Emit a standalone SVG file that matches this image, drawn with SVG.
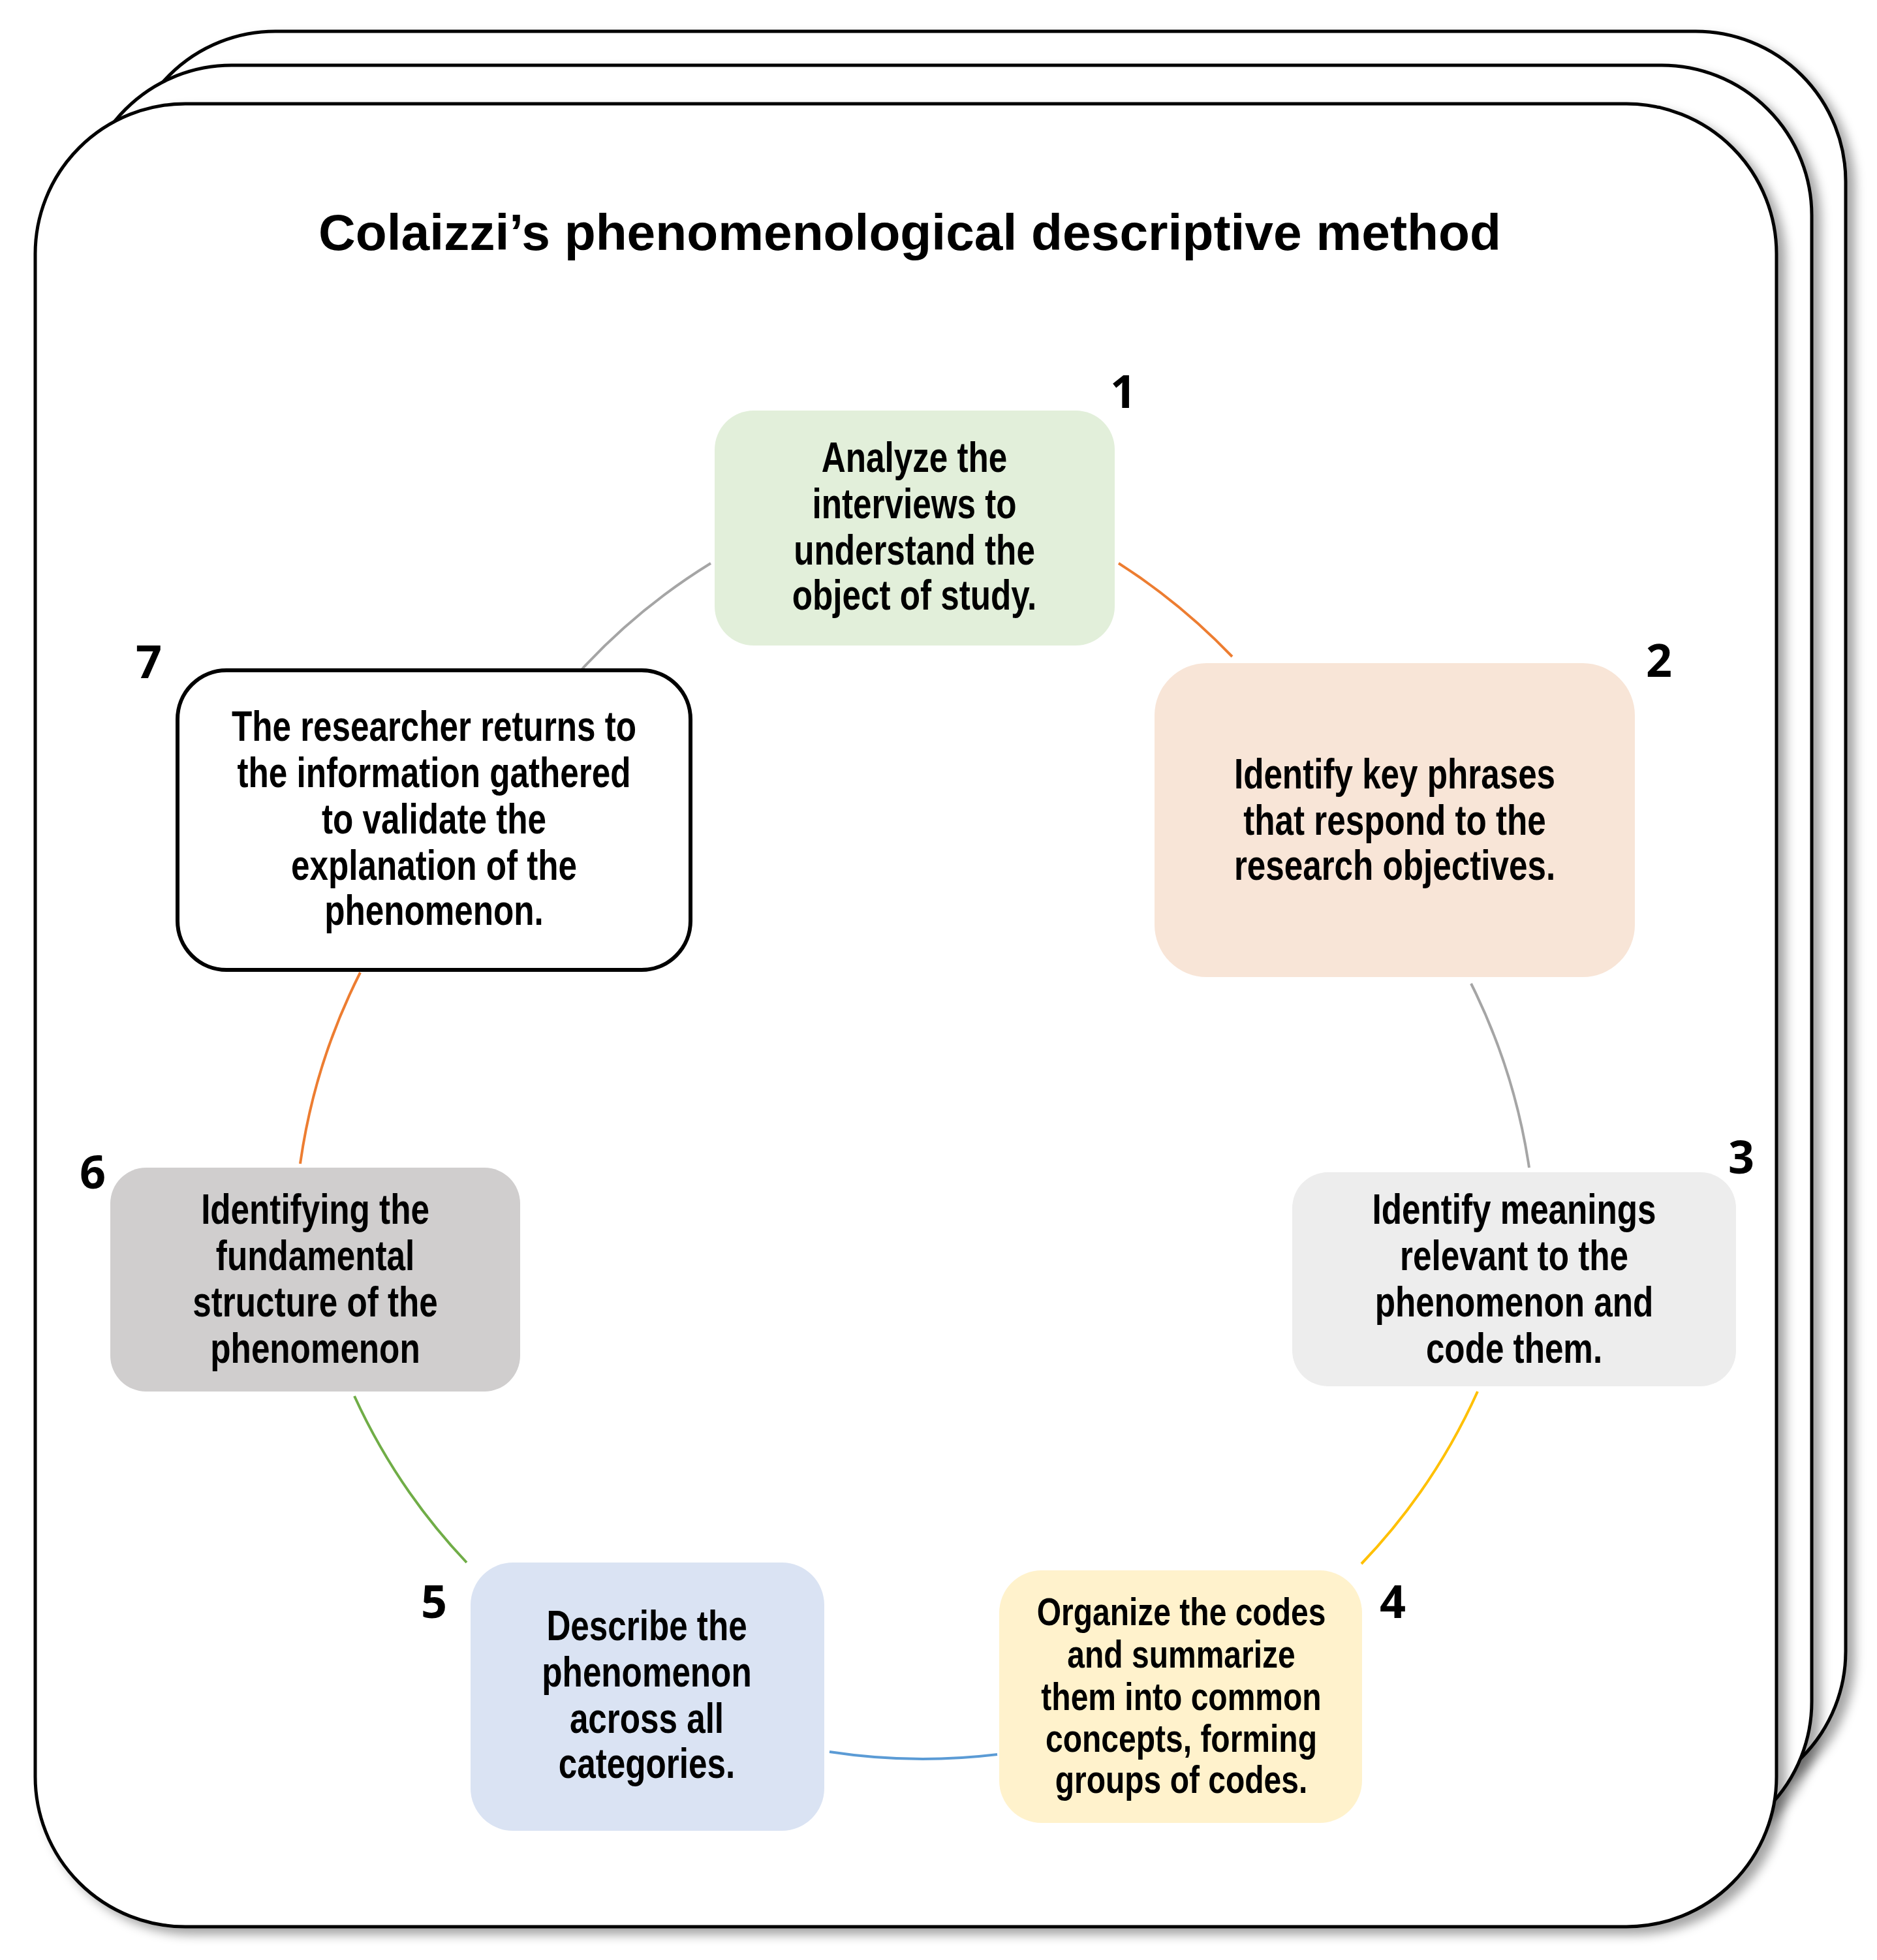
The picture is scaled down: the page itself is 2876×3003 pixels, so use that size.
<svg xmlns="http://www.w3.org/2000/svg" width="2876" height="3003" viewBox="0 0 2876 3003">
<style>
.card{fill:#fff;stroke:#000;stroke-width:5;filter:url(#sh)}
.t{font-family:"Liberation Sans",Arial,sans-serif;font-weight:bold;font-size:64px;text-anchor:middle;fill:#000}
.n{font-family:"Open Sans","Liberation Sans",sans-serif;font-weight:bold;font-size:70px;text-anchor:middle;fill:#000}
.c{fill:none;stroke-width:4}
</style>
<defs>
<filter id="sh" x="-5%" y="-5%" width="115%" height="115%"><feDropShadow dx="12" dy="10" stdDeviation="8" flood-color="#000" flood-opacity="0.35"/></filter>
</defs>
<g id="cards">
<rect class="card" x="192" y="48" width="2636" height="2712" rx="230"/>
<rect class="card" x="125" y="100" width="2651" height="2737" rx="230"/>
<rect class="card" x="54" y="159" width="2668" height="2793" rx="230"/>
</g>
<text id="title" x="1394" y="383" font-family="Liberation Sans,Arial,sans-serif" font-weight="bold" font-size="78" text-anchor="middle" textLength="1812" lengthAdjust="spacingAndGlyphs">Colaizzi’s phenomenological descriptive method</text>
<g id="connectors">
<path class="c" stroke="#ED7D31" d="M1714 863 A940 940 0 0 1 1888 1006"/>
<path class="c" stroke="#A5A5A5" d="M2254 1507 A940 940 0 0 1 2343 1789"/>
<path class="c" stroke="#FFC000" d="M2264 2132 A940 940 0 0 1 2086 2396"/>
<path class="c" stroke="#5B9BD5" d="M1528 2688 A940 940 0 0 1 1271 2684"/>
<path class="c" stroke="#70AD47" d="M715 2394 A940 940 0 0 1 543 2139"/>
<path class="c" stroke="#ED7D31" d="M460 1783 A940 940 0 0 1 552 1490"/>
<path class="c" stroke="#A5A5A5" d="M891 1026 A940 940 0 0 1 1089 863"/>
</g>
<g id="node1">
<rect x="1095" y="629" width="613" height="360" rx="60" fill="#E2EFDA"/>
<g transform="translate(1401,0) scale(0.8,1)"><text class="t"><tspan x="0" y="723">Analyze the</tspan><tspan x="0" y="794">interviews to</tspan><tspan x="0" y="865">understand the</tspan><tspan x="0" y="934">object of study.</tspan></text></g>
<text class="n" x="1721" y="625">1</text>
</g>
<g id="node2">
<rect x="1769" y="1016" width="736" height="481" rx="80" fill="#F8E5D7"/>
<g transform="translate(2137,0) scale(0.8,1)"><text class="t"><tspan x="0" y="1208">Identify key phrases</tspan><tspan x="0" y="1279">that respond to the</tspan><tspan x="0" y="1348">research objectives.</tspan></text></g>
<text class="n" x="2542" y="1037">2</text>
</g>
<g id="node3">
<rect x="1980" y="1796" width="680" height="328" rx="55" fill="#EDEDED"/>
<g transform="translate(2320,0) scale(0.8,1)"><text class="t"><tspan x="0" y="1875">Identify meanings</tspan><tspan x="0" y="1946">relevant to the</tspan><tspan x="0" y="2017">phenomenon and</tspan><tspan x="0" y="2088">code them.</tspan></text></g>
<text class="n" x="2668" y="1798">3</text>
</g>
<g id="node4">
<rect x="1531" y="2406" width="556" height="387" rx="65" fill="#FFF2CC"/>
<g transform="translate(1810,0) scale(0.8,1)"><text class="t" style="font-size:60px"><tspan x="0" y="2490">Organize the codes</tspan><tspan x="0" y="2555">and summarize</tspan><tspan x="0" y="2620">them into common</tspan><tspan x="0" y="2684">concepts, forming</tspan><tspan x="0" y="2747">groups of codes.</tspan></text></g>
<text class="n" x="2134" y="2479">4</text>
</g>
<g id="node5">
<rect x="721" y="2394" width="542" height="411" rx="65" fill="#DAE3F3"/>
<g transform="translate(991,0) scale(0.8,1)"><text class="t"><tspan x="0" y="2513">Describe the</tspan><tspan x="0" y="2584">phenomenon</tspan><tspan x="0" y="2655">across all</tspan><tspan x="0" y="2724">categories.</tspan></text></g>
<text class="n" x="665" y="2479">5</text>
</g>
<g id="node6">
<rect x="169" y="1789" width="628" height="343" rx="55" fill="#D0CECE"/>
<g transform="translate(483,0) scale(0.8,1)"><text class="t"><tspan x="0" y="1875">Identifying the</tspan><tspan x="0" y="1946">fundamental</tspan><tspan x="0" y="2017">structure of the</tspan><tspan x="0" y="2088">phenomenon</tspan></text></g>
<text class="n" x="142" y="1821">6</text>
</g>
<g id="node7">
<rect x="272" y="1027" width="786" height="459" rx="75" fill="#fff" stroke="#000" stroke-width="6"/>
<g transform="translate(665,0) scale(0.8,1)"><text class="t"><tspan x="0" y="1135">The researcher returns to</tspan><tspan x="0" y="1206">the information gathered</tspan><tspan x="0" y="1277">to validate the</tspan><tspan x="0" y="1348">explanation of the</tspan><tspan x="0" y="1417">phenomenon.</tspan></text></g>
<text class="n" x="228" y="1039">7</text>
</g>
</svg>
